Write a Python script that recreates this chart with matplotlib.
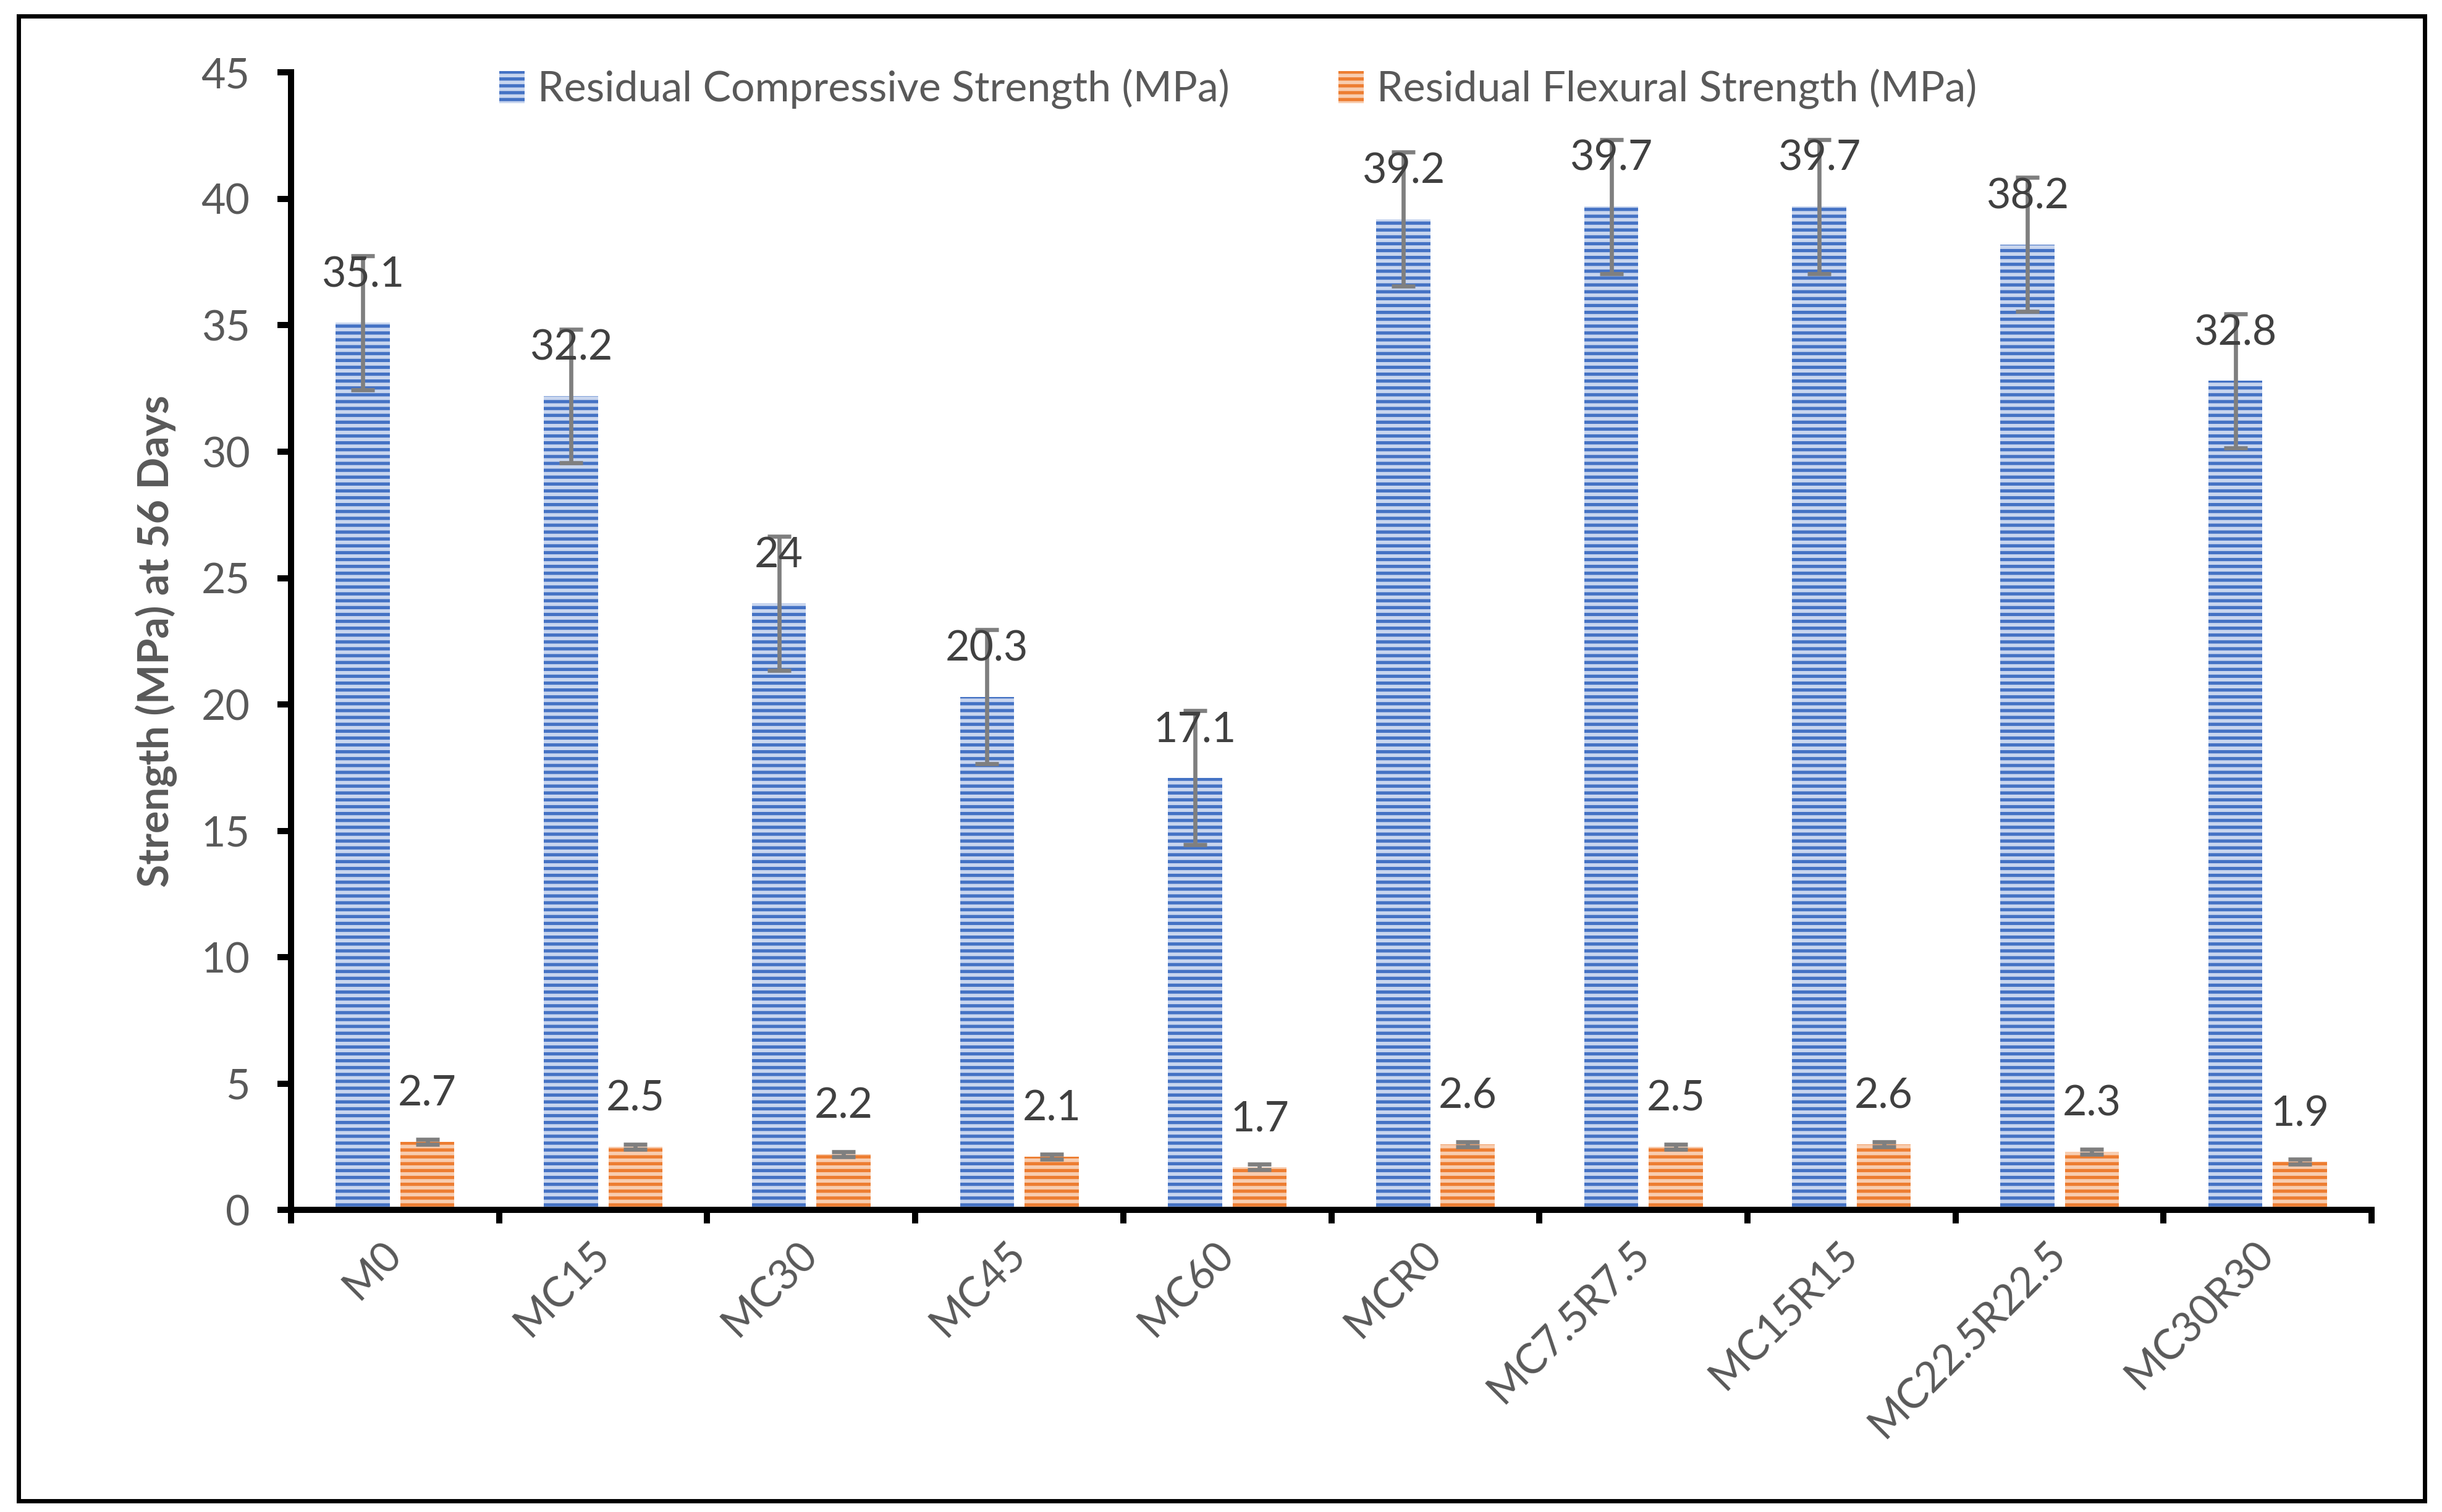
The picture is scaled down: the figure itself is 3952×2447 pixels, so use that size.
import matplotlib.pyplot as plt
import matplotlib.patches as mpatches
import numpy as np

plt.rcParams['font.family'] = ['Lato', 'DejaVu Sans']
plt.rcParams['hatch.linewidth'] = 1.9

# data
mixes = ['M0', 'MC15', 'MC30', 'MC45', 'MC60', 'MCR0', 'MC7.5R7.5', 'MC15R15', 'MC22.5R22.5', 'MC30R30']
compressive = [35.1, 32.2, 24, 20.3, 17.1, 39.2, 39.7, 39.7, 38.2, 32.8]
flexural = [2.7, 2.5, 2.2, 2.1, 1.7, 2.6, 2.5, 2.6, 2.3, 1.9]
compressive_err = [2.65] * 10
flexural_err = [0.1] * 10

fig = plt.figure(figsize=(19.76, 12.235), dpi=200)
ax = fig.add_axes([0.1192, 0.1998, 0.852, 0.7522])

x = np.arange(len(mixes))
w = 0.26
off = 0.155
gray = '#595959'
fs = 24.5

b1 = ax.bar(x - off, compressive, w, color='#c9d6ef', edgecolor='#4472C4', hatch='---', linewidth=0,
            label='Residual Compressive Strength (MPa)')
b2 = ax.bar(x + off, flexural, w, color='#f8cdb0', edgecolor='#ED7D31', hatch='---', linewidth=0,
            label='Residual Flexural Strength (MPa)')

ax.errorbar(x - off, compressive, yerr=compressive_err, fmt='none', ecolor='#7f7f7f',
            elinewidth=2.4, capsize=7, capthick=2.4)
ax.errorbar(x + off, flexural, yerr=flexural_err, fmt='none', ecolor='#7f7f7f',
            elinewidth=2.4, capsize=7, capthick=2.4)

# value labels above bars
for xi, v in zip(x - off, compressive):
    ax.annotate('{:g}'.format(v), (xi, v), xytext=(0, 21), textcoords='offset points',
                ha='center', va='baseline', fontsize=fs, color='#404040')
for xi, v in zip(x + off, flexural):
    ax.annotate('{:g}'.format(v), (xi, v), xytext=(0, 21), textcoords='offset points',
                ha='center', va='baseline', fontsize=fs, color='#404040')

ax.set_xlim(-0.5, len(mixes) - 0.5)
ax.set_ylim(0, 45)
ax.set_yticks(range(0, 46, 5))
ax.set_xticks(np.arange(-0.5, len(mixes), 1.0))
ax.set_xticklabels([])
ax.set_xticks(x, minor=True)
ax.set_xticklabels(mixes, minor=True, rotation=45, ha='right', va='center', rotation_mode='anchor',
                   fontsize=fs, color=gray)
ax.tick_params(axis='x', which='minor', length=0, pad=22)
ax.tick_params(axis='x', which='major', length=8, width=3.6, direction='out')
ax.tick_params(axis='y', length=8, width=3.6, labelsize=fs, labelcolor=gray, pad=16)

for s in ['top', 'right']:
    ax.spines[s].set_visible(False)
for s in ['left', 'bottom']:
    ax.spines[s].set_linewidth(3.6)
    ax.spines[s].set_color('black')

ax.set_ylabel('Strength (MPa) at 56 Days', fontsize=fs, fontweight='bold', color=gray, labelpad=14)

fig.legend(handles=[b1, b2], loc='center', bbox_to_anchor=(0.507, 0.941), ncol=2, frameon=False,
           fontsize=fs, labelcolor=gray, handlelength=0.6, handleheight=0.8, columnspacing=2.6,
           handletextpad=0.3)

# outer frame around the chart
fig.patches.append(mpatches.Rectangle((0.0075, 0.0075), 0.9855, 0.982, transform=fig.transFigure,
                                      fill=False, edgecolor='black', linewidth=2.5))

fig.savefig('out.png', dpi=200)
